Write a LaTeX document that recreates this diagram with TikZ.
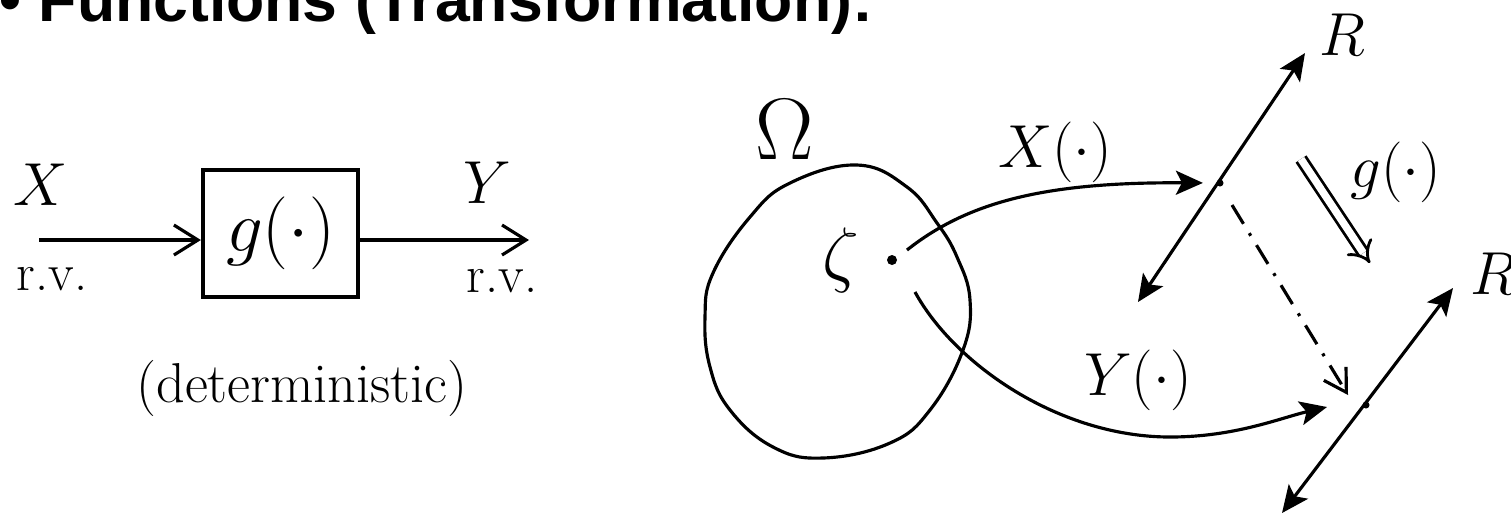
\documentclass[tikz,border=0pt]{standalone}
\usepackage{amsmath,amssymb}
\usepackage{fontspec}
\newfontfamily\titlefont{Liberation Sans}
\usepackage{tikz}
\usetikzlibrary{positioning,arrows.meta}

\begin{document}
\begin{tikzpicture}[x=0.1mm, y=-0.1mm, line width=0.9pt,
  lbl/.style={inner sep=0pt, font=\fontsize{18}{20}\selectfont},
  sml/.style={inner sep=0pt, font=\fontsize{15}{17}\selectfont},
  gbox/.style={draw, line width=1.2pt, minimum width=15.5mm, minimum height=12.7mm,
               inner sep=0pt, font=\fontsize{20}{22}\selectfont},
  arr/.style={-{Straight Barb[length=2.4mm, width=3mm]}},
  tip/.style={-{Stealth[length=2.7mm, width=2.4mm, inset=0.6mm]}},
  axis/.style={{Stealth[length=2.7mm, width=2.4mm, inset=0.6mm]}-{Stealth[length=2.7mm, width=2.4mm, inset=0.6mm]}},
  map/.style={double, double distance=0.75mm, line width=0.8pt, -{Implies}},
  dashdot/.style={-{Straight Barb[length=2.2mm, width=2.6mm]},
                  dash pattern=on 2.2mm off 1.1mm on 0.3mm off 1.1mm}]
\useasboundingbox (0,0) rectangle (1511,518);
% heading, cut by the page top
\node[inner sep=0pt, anchor=base west, font=\titlefont\bfseries\fontsize{17.8}{20}\selectfont]
  (ttl) at (-2,21) {\textbullet\ Functions (Transformation):};

% block diagram
\node[gbox] (g) at (280.5,233.5) {$g(\cdot)$};
\coordinate (xin) at (39,240);
\coordinate (yout) at (529,240);
\draw[arr] (xin) -- (g.west |- xin);
\draw[arr] (g.east |- yout) -- (yout);
\node[lbl] (xl) at (41,185) {$X$};
\node[lbl] (yl) at (487,183) {$Y$};
\node[sml] (rvx) at (52,279) {r.v.};
\node[sml] (rvy) at (502,281) {r.v.};
\node[inner sep=0pt, font=\fontsize{16}{18}\selectfont] (det) at (302,388) {(deterministic)};

% sample space
\draw plot[smooth cycle, tension=0.7] coordinates {(857,165) (907,187) (937,223) (957,257)
  (970,300) (963,350) (930,410) (890,443) (823,458) (773,447) (730,410) (710,367)
  (705,317) (713,273) (750,217) (790,183)};
\node[inner sep=0pt, font=\fontsize{23}{25}\selectfont] (om) at (785,130) {$\Omega$};
\node[inner sep=0pt, font=\fontsize{20}{22}\selectfont] (ze) at (841,260) {$\zeta$};
\node[circle, fill, inner sep=0pt, minimum size=1mm] (zd) at (892,260) {};

% the two real lines
\coordinate (alo) at (1138,302);
\coordinate (ahi) at (1305,53);
\coordinate (blo) at (1282,513);
\coordinate (bhi) at (1453,288);
\draw[axis] (alo) -- (ahi);
\draw[axis] (blo) -- (bhi);
\node[circle, fill, inner sep=0pt, minimum size=0.7mm] (xp) at (1220,183) {};
\node[circle, fill, inner sep=0pt, minimum size=0.7mm] (yp) at (1366,405) {};
\node[lbl] (ra) at (1342,35) {$R$};
\node[lbl] (rb) at (1493,274) {$R$};

% mappings
\coordinate (xs) at (907,250);
\coordinate (ys) at (915,292);
\coordinate (ye) at (1327,407);
\draw[tip, shorten >=1.2mm] (xs) .. controls (970,200) and (1050,182) .. (xp);
\draw[tip] (ys) .. controls (955,365) and (1060,437) .. (1170,437)
  .. controls (1235,437) and (1280,418) .. (ye);
\node[sml, font=\fontsize{16}{18}\selectfont] (xm) at (1055,152) {$X(\cdot)$};
\node[sml, font=\fontsize{16}{18}\selectfont] (ym) at (1138,380) {$Y(\cdot)$};

% induced map g
\coordinate (gs) at (1301,159);
\coordinate (ge) at (1370,263);
\draw[map] (gs) -- (ge);
\node[sml, font=\fontsize{16}{18}\selectfont] (gm) at (1396,172) {$g(\cdot)$};
\coordinate (ds) at (1232,205);
\coordinate (de) at (1348,395);
\draw[dashdot] (ds) -- (de);
\end{tikzpicture}
\end{document}
